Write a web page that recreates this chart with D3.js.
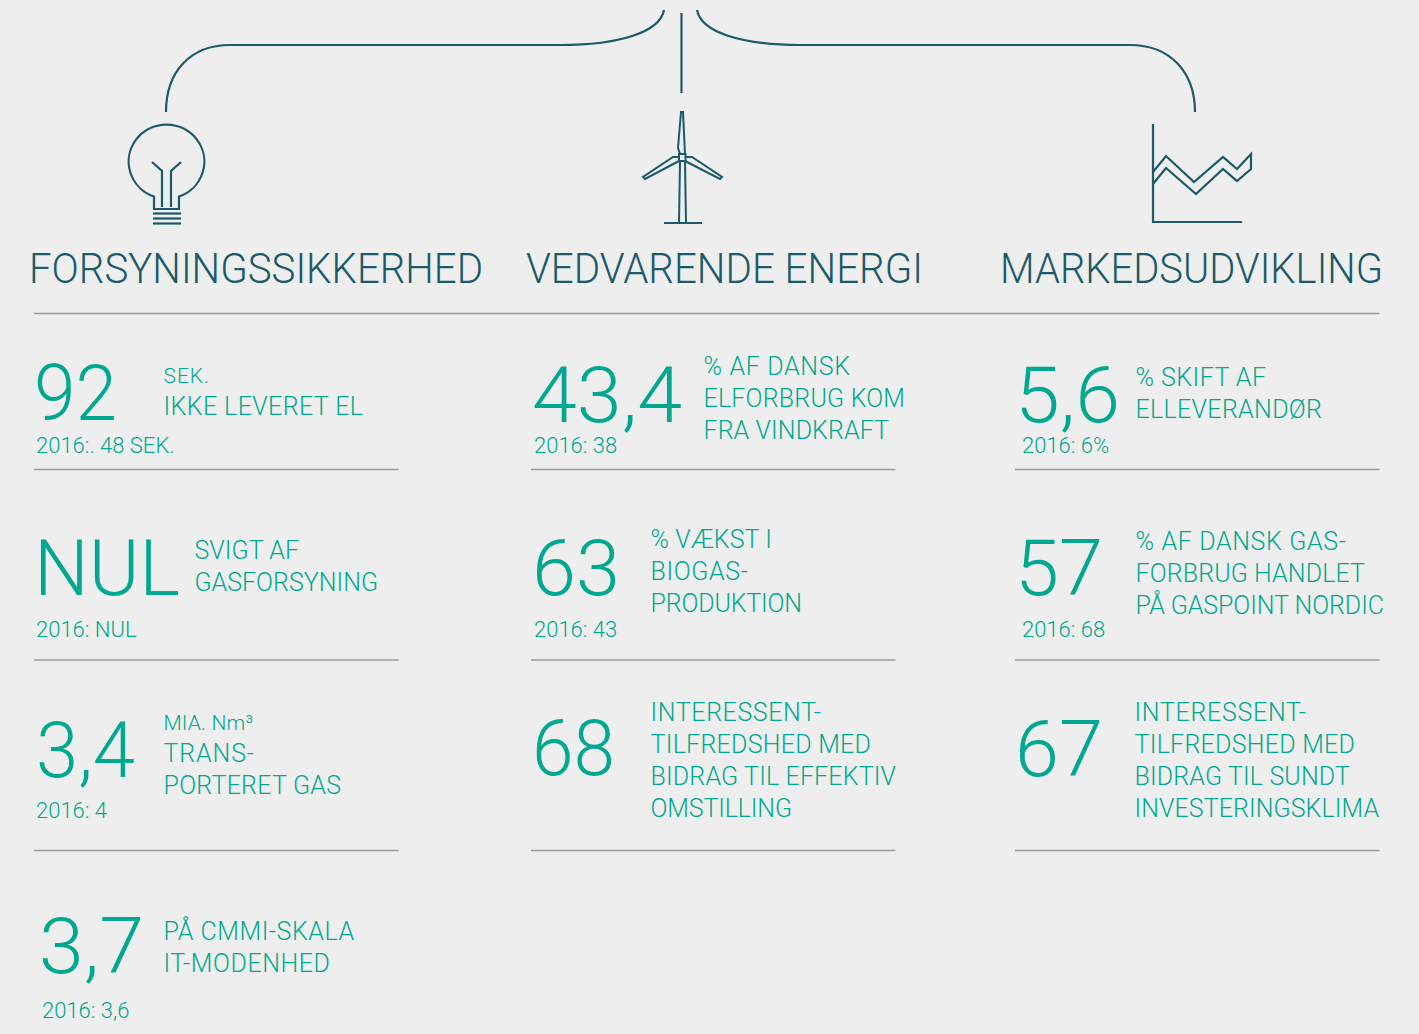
<!DOCTYPE html>
<html>
<head>
<meta charset="utf-8">
<script src="https://d3js.org/d3.v7.min.js"></script>
<style>
  html, body { margin: 0; padding: 0; background: #eeeeee; }
  svg { display: block; }
  text { font-family: Roboto, "Noto Sans", sans-serif; font-weight: 300; }
</style>
</head>
<body>
<div id="chart"></div>
<script>
// data
var headings = ["FORSYNINGSSIKKERHED", "VEDVARENDE ENERGI", "MARKEDSUDVIKLING"];
var values = [
  ["92", "NUL", "3,4", "3,7"],
  ["43,4", "63", "68"],
  ["5,6", "57", "67"]
];
var labels = [
  [["SEK.", "IKKE LEVERET EL"], ["SVIGT AF", "GASFORSYNING"], ["MIA. Nm³", "TRANS-", "PORTERET GAS"], ["PÅ CMMI-SKALA", "IT-MODENHED"]],
  [["% AF DANSK", "ELFORBRUG KOM", "FRA VINDKRAFT"], ["% VÆKST I", "BIOGAS-", "PRODUKTION"], ["INTERESSENT-", "TILFREDSHED MED", "BIDRAG TIL EFFEKTIV", "OMSTILLING"]],
  [["% SKIFT AF", "ELLEVERANDØR"], ["% AF DANSK GAS-", "FORBRUG HANDLET", "PÅ GASPOINT NORDIC"], ["INTERESSENT-", "TILFREDSHED MED", "BIDRAG TIL SUNDT", "INVESTERINGSKLIMA"]]
];
var previous = [
  ["2016:. 48 SEK.", "2016: NUL", "2016: 4", "2016: 3,6"],
  ["2016: 38", "2016: 43"],
  ["2016: 6%", "2016: 68"]
];

var width = 1419, height = 1034;
var teal = "#00a88f", dark = "#1b5a68", rule = "#9a9a9a";

// layout
var colX = d3.scaleOrdinal([0, 1, 2], [34, 531, 1015]);
var cardW = 364.5;
var ruleY = d3.scaleLinear([0, 2], [469.5, 850.5]);
var valueBase = [[420, 595, 777, 973], [422, 595, 775], [422, 595, 776]];
var valueX = [[34, 34, 36, 39], [532, 532, 532], [1015, 1015, 1015]];
var valueW = [[83, 146, 99, 105], [150, 88, 83], [105, 88, 88]];
var labelX = [[163.5, 194.5, 163.5, 163.5], [703.5, 650.5, 650.5], [1135.5, 1135.5, 1134.5]];
var labelBase = [[383, 559, 730, 940], [375, 548, 721], [386, 550, 721]];
// right end of every label line
var labelEnd = [
  [[208, 362], [298, 377], [252, 253, 340], [353, 329]],
  [[849, 904, 888], [771, 747, 801], [820, 870, 895, 791]],
  [[1265, 1321], [1345, 1364, 1383], [1305, 1354, 1349, 1378]]
];
var prevX = [[36, 36, 36, 42], [534, 534], [1022, 1022]];
var prevBase = [[453, 637, 818, 1018], [453, 637], [453, 637]];
var headX = [29, 526, 1000], headW = [454, 397, 383];

var svg = d3.select("#chart").append("svg")
  .attr("width", width).attr("height", height)
  .attr("viewBox", [0, 0, width, height]);

svg.append("rect").attr("width", width).attr("height", height).attr("fill", "#eeeeee");

// connectors
var art = svg.append("g").attr("fill", "none").attr("stroke", dark).attr("stroke-width", 2.2);
art.append("path").attr("d", "M664,10C660,32 620,45 560,45H230C190,45 166,72 166,112");
art.append("path").attr("d", "M697,10C701,32 741,45 800,45H1130C1170,45 1195,72 1195,112");
art.append("path").attr("d", "M681.5,13V93");

// icons
var line = d3.line();
var bulb = art.append("g");
bulb.append("path").attr("d", "M154,209V196.5A37.8,37 0 1 1 179,196.5V209Z");
bulb.append("path").attr("d", "M162,207V171L152,162M171,207V171L181,162");
[213.5, 218.5, 223.5].forEach(function (y) {
  bulb.append("path").attr("d", line([[153, y], [181, y]]));
});

var turbine = art.append("g").attr("stroke-width", 2);
turbine.append("path").attr("d", line([[680, 154], [678, 148], [681, 112], [683, 112], [685, 154]]));
turbine.append("path").attr("d", line([[679, 157], [673, 157], [643, 177], [645, 179], [679, 161]]));
turbine.append("path").attr("d", line([[685, 157], [692, 157], [722, 177], [720, 179], [685, 161]]));
turbine.append("rect").attr("x", 679).attr("y", 154).attr("width", 6.5).attr("height", 7);
turbine.append("path").attr("d", line([[679, 223], [680, 161]]));
turbine.append("path").attr("d", line([[686, 223], [685, 161]]));
turbine.append("path").attr("d", line([[664, 223], [702, 223]]));

var market = art.append("g");
market.append("path").attr("d", line([[1153, 124], [1153, 222], [1242, 222]]));
market.append("path").attr("d", line([[1153, 172], [1166, 156], [1194, 182], [1223, 157], [1237, 169], [1251, 154], [1251, 169], [1237, 181], [1223, 169], [1196, 194], [1166, 168], [1153, 184]]));

// headings
svg.append("g").selectAll("text").data(headings).join("text")
  .attr("x", function (d, i) { return headX[i]; })
  .attr("y", 283)
  .attr("fill", dark)
  .style("font-size", "43px")
  .text(function (d) { return d; })
  .attr("textLength", function (d, i) { return headW[i]; })
  .attr("lengthAdjust", "spacingAndGlyphs");

svg.append("line").attr("x1", 34).attr("x2", 1379.5).attr("y1", 313.5).attr("y2", 313.5)
  .attr("stroke", rule).attr("stroke-width", 1.5);

// rules under the cards
colX.domain().forEach(function (c) {
  d3.range(3).forEach(function (r) {
    svg.append("line")
      .attr("x1", colX(c)).attr("x2", colX(c) + cardW)
      .attr("y1", ruleY(r)).attr("y2", ruleY(r))
      .attr("stroke", rule).attr("stroke-width", 1.5);
  });
});

// cards
values.forEach(function (col, c) {
  var g = svg.append("g").attr("class", "col" + c);
  col.forEach(function (v, r) {
    g.append("text")
      .attr("x", valueX[c][r]).attr("y", valueBase[c][r])
      .attr("fill", teal).style("font-size", "78px")
      .text(v)
      .attr("textLength", valueW[c][r])
      .attr("lengthAdjust", "spacingAndGlyphs");

    var lines = labels[c][r];
    var small = lines[0] == "SEK." || lines[0] == "MIA. Nm³";
    g.selectAll(null).data(lines).join("text")
      .attr("x", labelX[c][r])
      .attr("y", function (d, i) { return labelBase[c][r] + i * 32; })
      .attr("fill", teal)
      .style("font-size", function (d, i) { return small && i == 0 ? "21px" : "25px"; })
      .text(function (d) { return d; })
      .attr("textLength", function (d, i) { return labelEnd[c][r][i] - labelX[c][r] + 1; })
      .attr("lengthAdjust", "spacing");

    if (previous[c][r]) {
      g.append("text")
        .attr("x", prevX[c][r]).attr("y", prevBase[c][r])
        .attr("fill", teal).style("font-size", "22px")
        .text(previous[c][r]);
    }
  });
});
</script>
</body>
</html>
